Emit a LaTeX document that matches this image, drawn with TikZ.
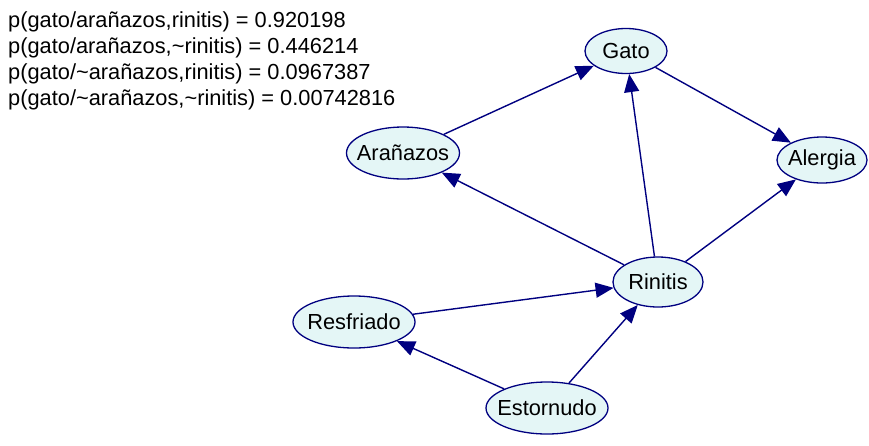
\documentclass[tikz,border=0pt]{standalone}
\usepackage{fontspec}
\setmainfont{Liberation Sans}
\usetikzlibrary{arrows.meta,shapes.geometric}
\definecolor{edgeblue}{RGB}{0,0,128}
\definecolor{nodefill}{RGB}{228,246,246}
\newcommand{\nodetext}[1]{\makebox[0pt][c]{#1}}
\tikzset{
  bn/.style={ellipse, draw=edgeblue, line width=1.3pt, fill=nodefill, inner sep=0pt,
    font=\fontsize{21.8}{26}\selectfont},
  link/.style={draw=edgeblue, line width=1.4pt, -{Triangle[length=18pt,width=15pt]}},
  prob/.style={anchor=west, inner sep=0pt, font=\fontsize{21.8}{26}\selectfont}
}
\begin{document}
\begin{tikzpicture}[x=1pt,y=-1pt]
\useasboundingbox (0,0) rectangle (869,445);
\node[prob] (t1) at (8,22) {p(gato/arañazos,rinitis) = 0.920198};
\node[prob] (t2) at (8,48) {p(gato/arañazos,\textasciitilde rinitis) = 0.446214};
\node[prob] (t3) at (8,74) {p(gato/\textasciitilde arañazos,rinitis) = 0.0967387};
\node[prob] (t4) at (8,100) {p(gato/\textasciitilde arañazos,\textasciitilde rinitis) = 0.00742816};

\node[bn, minimum width=82pt, minimum height=45pt] (gato) at (626,51) {\nodetext{Gato}};
\node[bn, minimum width=90pt, minimum height=46pt] (alergia) at (822,160) {\nodetext{Alergia}};
\node[bn, minimum width=113pt, minimum height=52pt] (aranazos) at (403,153) {\nodetext{Arañazos}};
\node[bn, minimum width=90pt, minimum height=50pt] (rinitis) at (658,282) {\nodetext{Rinitis}};
\node[bn, minimum width=122pt, minimum height=52pt] (resfriado) at (354,322) {\nodetext{Resfriado}};
\node[bn, minimum width=122pt, minimum height=52pt] (estornudo) at (547,408) {\nodetext{Estornudo}};

\draw[link] (aranazos) -- (gato);
\draw[link] (gato) -- (alergia);
\draw[link] (rinitis) -- (gato);
\draw[link] (rinitis) -- (aranazos);
\draw[link] (rinitis) -- (alergia);
\draw[link] (resfriado) -- (rinitis);
\draw[link] (estornudo) -- (resfriado);
\draw[link] (estornudo) -- (rinitis);
\end{tikzpicture}
\end{document}
